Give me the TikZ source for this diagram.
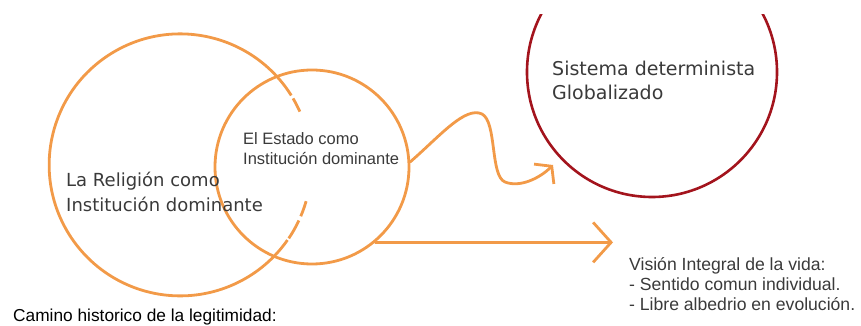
\documentclass[tikz,border=0pt]{standalone}
\usepackage{fontspec}
\setmainfont{Liberation Sans}
\newfontfamily\wideface{DejaVu Sans}
\usetikzlibrary{arrows.meta, positioning, calc}
\definecolor{naranja}{HTML}{F29A48}
\definecolor{granate}{HTML}{A3141D}
\definecolor{gristxt}{HTML}{3A3A3A}

\begin{document}
\begin{tikzpicture}[x=1pt, y=1pt,
    ring/.style={circle, draw=naranja, line width=2.8pt, inner sep=0pt},
    bigtxt/.style={font=\wideface\fontsize{18}{25}\selectfont, text=gristxt, anchor=base west, align=left, inner sep=0pt},
    smalltxt/.style={font=\fontsize{16.5}{20}\selectfont, text=gristxt, anchor=base west, align=left, inner sep=0pt},
    flecha/.style={draw=naranja, line width=2.8pt, line cap=round}]
\useasboundingbox (0,0) rectangle (861,326);
% the two institutions
\node[circle, minimum size=262pt, inner sep=0pt] (religion) at (180,161) {};
\draw[naranja, line width=2.8pt]
    (religion.32) arc[start angle=32, end angle=325, radius=131];
\draw[naranja, line width=2.8pt]
    (religion.-34) arc[start angle=-34, end angle=-25, radius=131];
\draw[naranja, line width=2.8pt]
    (religion.-23) arc[start angle=-23, end angle=-16, radius=131];
\draw[naranja, line width=2.8pt]
    (religion.24) arc[start angle=24, end angle=30.5, radius=131];
\node[ring, minimum size=194pt] (estado) at (312,159) {};
% the global system, cut at the top
\begin{scope}
\clip (0,0) rectangle (861,311);
\node[circle, draw=granate, line width=2.6pt, minimum size=250pt, inner sep=0pt] (sistema) at (652,254) {};
\end{scope}
% labels (base = last line)
\node[bigtxt] (religionlbl) at (66,114) {La Religión como\\Institución dominante};
\node[smalltxt] (estadolbl) at (243,161) {El Estado como\\Institución dominante};
\node[bigtxt, font=\wideface\fontsize{19}{24}\selectfont] (sistemalbl) at (552,226) {Sistema determinista\\Globalizado};
\node[smalltxt, font=\fontsize{17.6}{20}\selectfont] (visionlbl) at (629,15) {Visión Integral de la vida:\\- Sentido comun individual.\\- Libre albedrio en evolución.};
\node[smalltxt, text=black, font=\fontsize{17.3}{20}\selectfont] (caminolbl) at (13,4) {Camino historico de la legitimidad:};
% two ways out of the state
\coordinate (curvatip) at (553,161);
\coordinate (rectatip) at (613,84);
\draw[flecha, -{Straight Barb[length=11pt, width=28pt, line width=2.8pt]}]
    (estado.3) .. controls (440,190) and (465,220) .. (482,212)
    .. controls (497,204) and (490,150) .. (505,144)
    .. controls (520,138) and (540,148) .. (curvatip);
\draw[flecha, -{Straight Barb[length=18pt, width=40pt, line width=2.8pt]}]
    (estado.-50) -- (estado.-50 -| rectatip);
\end{tikzpicture}
\end{document}
